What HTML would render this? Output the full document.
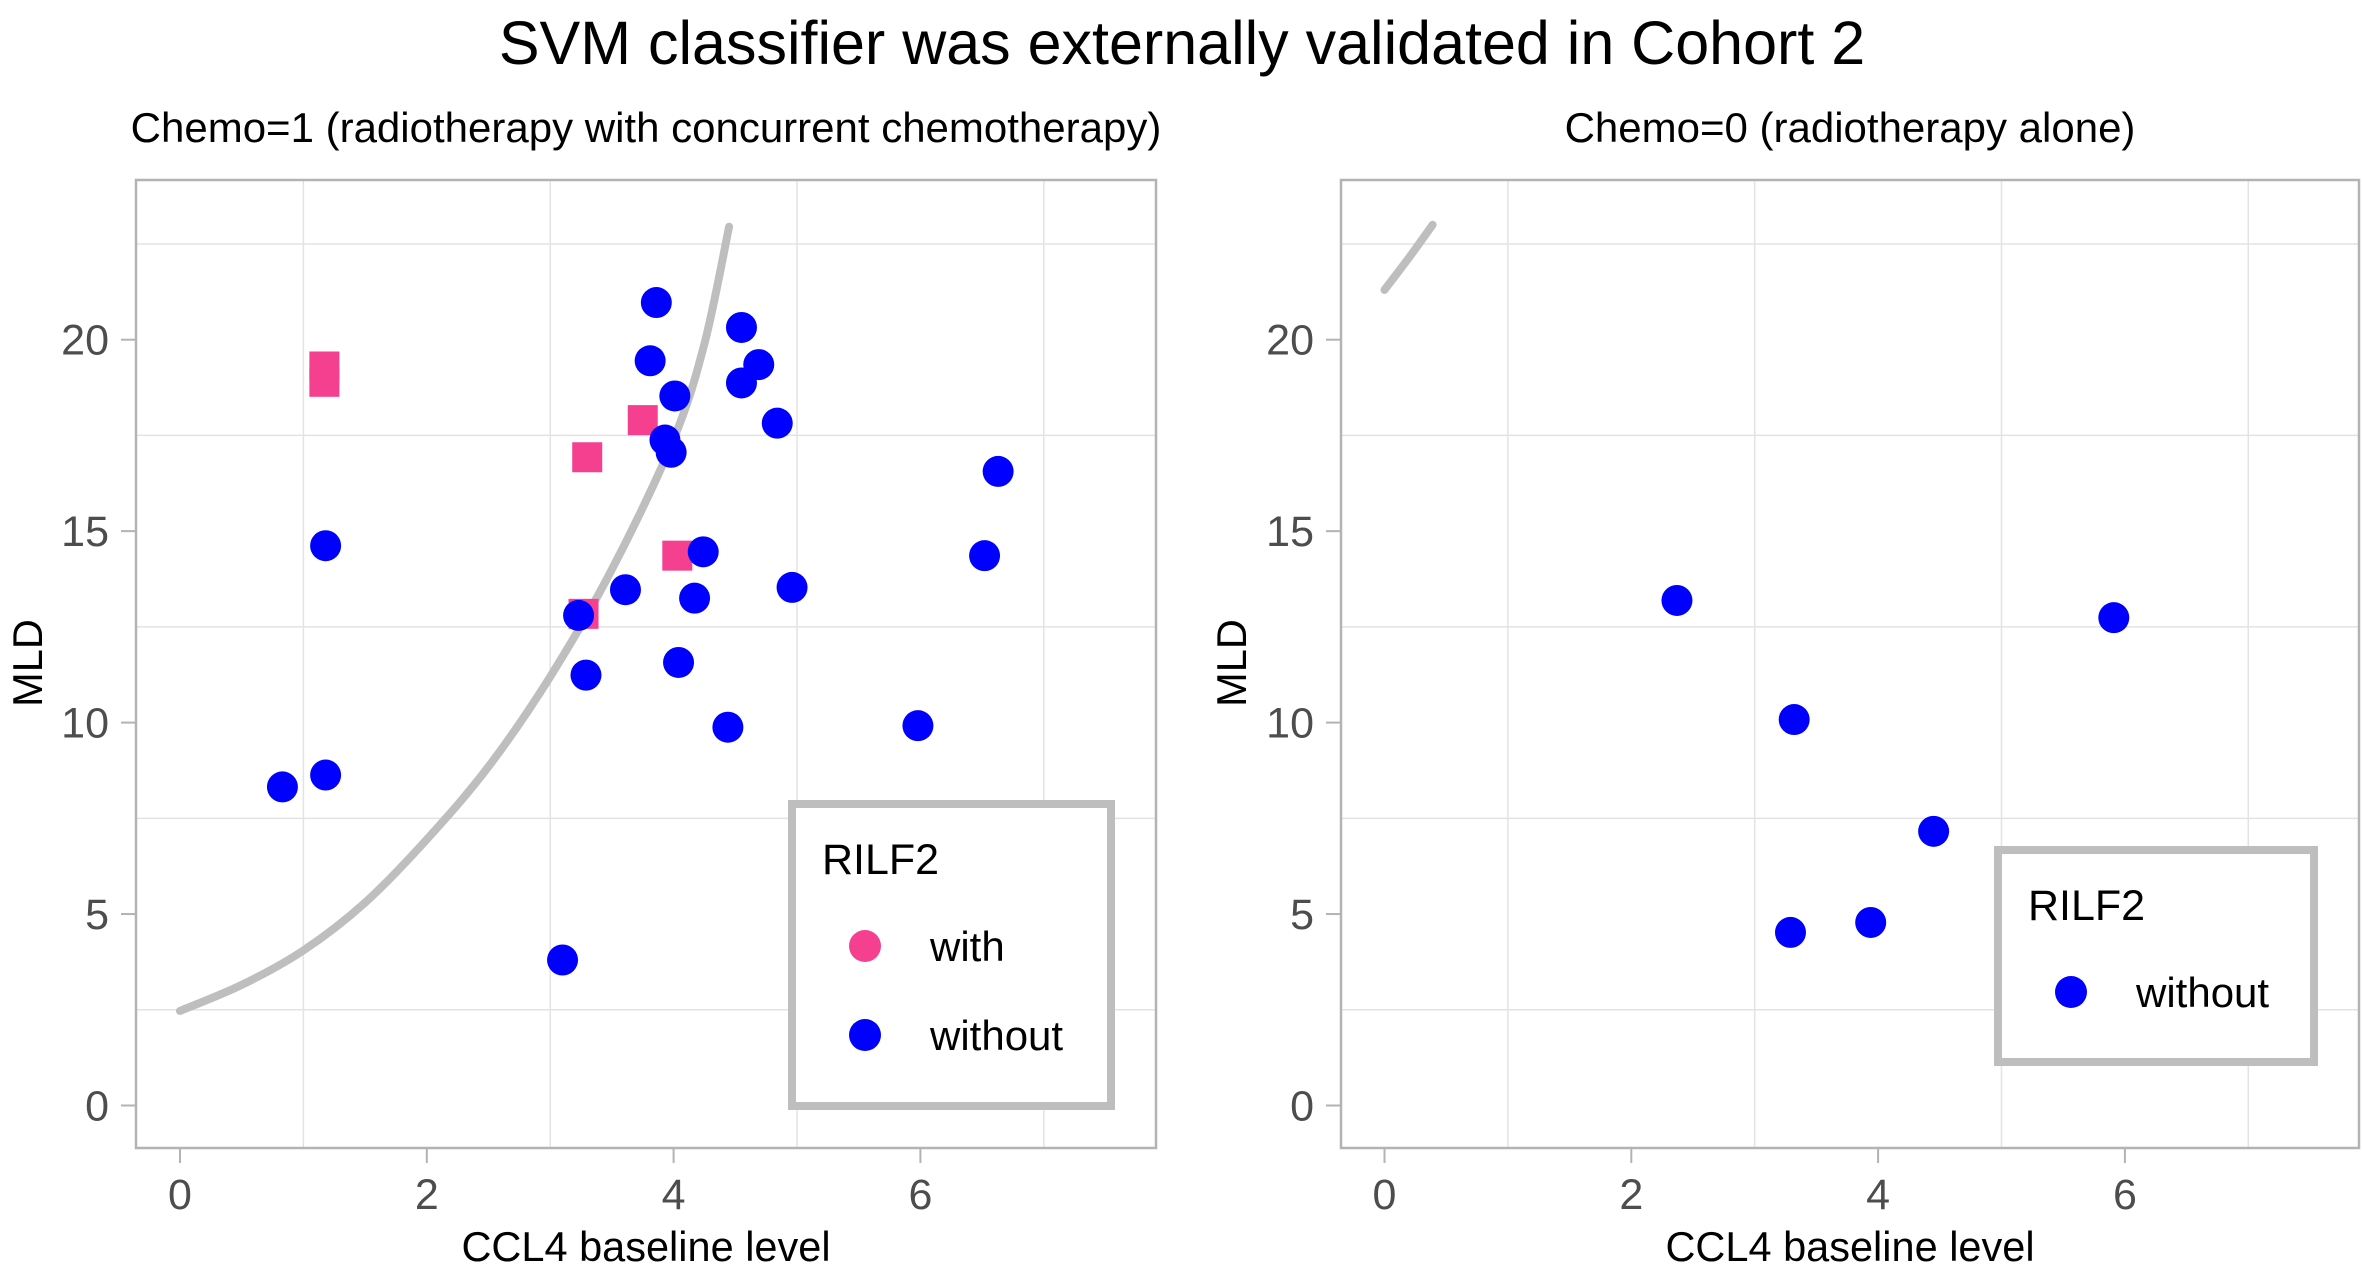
<!DOCTYPE html>
<html><head><meta charset="utf-8">
<style>
html,body{margin:0;padding:0;background:#fff;}
svg{display:block;font-family:"Liberation Sans",Arial,sans-serif;}
</style></head>
<body>
<svg id="chart" width="2362" height="1265" viewBox="0 0 2362 1265" xmlns="http://www.w3.org/2000/svg">
<rect width="2362" height="1265" fill="#fff"/>
<text x="1182" y="64" font-size="61" text-anchor="middle" fill="#000">SVM classifier was externally validated in Cohort 2</text>
</svg>
<script>
// ---- data ----
const p1WithoutX = [3.86,4.55,3.81,4.69,4.55,4.01,4.84,3.93,3.98,6.63,1.18,4.24,6.52,3.61,4.96,4.17,3.23,4.04,3.29,4.44,5.98,1.18,0.83,3.10];
const p1WithoutY = [20.97,20.32,19.45,19.35,18.87,18.53,17.82,17.38,17.06,16.56,14.62,14.46,14.36,13.47,13.53,13.25,12.80,11.57,11.24,9.88,9.92,8.63,8.32,3.80];
const p1WithX = [1.17,1.17,3.75,3.30,4.03,3.27];
const p1WithY = [19.3,18.9,17.9,16.93,14.36,12.84];
const p2WithoutX = [2.37,3.32,5.91,4.45,3.94,3.29];
const p2WithoutY = [13.19,10.08,12.74,7.16,4.78,4.52];
const curve1X = [0,0.5,1,1.5,2,2.5,3,3.5,4,4.25,4.45];
const curve1Y = [2.47,3.15,4.05,5.3,6.95,8.85,11.2,14.0,17.4,19.9,22.95];
const curve2X = [0,0.2,0.39];
const curve2Y = [21.3,22.15,23.0];
const xTicks = [0,2,4,6];
const yTicks = [0,5,10,15,20];
const xMinor = [1,3,5,7];
const yMinor = [2.5,7.5,12.5,17.5,22.5];

const NS="http://www.w3.org/2000/svg";
const svg=document.getElementById('chart');
function mk(tag,attrs,parent){const e=document.createElementNS(NS,tag);for(const k in attrs)e.setAttribute(k,attrs[k]);(parent||svg).appendChild(e);return e;}
function smooth(pts){
  let d='M'+pts[0][0].toFixed(1)+' '+pts[0][1].toFixed(1);
  for(let i=0;i<pts.length-1;i++){
    const p0=pts[Math.max(0,i-1)],p1=pts[i],p2=pts[i+1],p3=pts[Math.min(pts.length-1,i+2)];
    const c1=[p1[0]+(p2[0]-p0[0])/6,p1[1]+(p2[1]-p0[1])/6];
    const c2=[p2[0]-(p3[0]-p1[0])/6,p2[1]-(p3[1]-p1[1])/6];
    d+=` C${c1[0].toFixed(1)} ${c1[1].toFixed(1)} ${c2[0].toFixed(1)} ${c2[1].toFixed(1)} ${p2[0].toFixed(1)} ${p2[1].toFixed(1)}`;
  }
  return d;
}

function panel(cfg){
  const g=mk('g',{});
  
  
  const X=v=>cfg.x0+v*123.4, Y=v=>1105.5-v*38.29;
  xMinor.forEach(v=>{const px=X(v); if(px<cfg.right){const l=mk('line',{x1:px,x2:px,y1:cfg.top,y2:cfg.bottom,stroke:'#e3e3e3','stroke-width':1.5},g);
    }});
  yMinor.forEach(v=>{const l=mk('line',{x1:cfg.left,x2:cfg.right,y1:Y(v),y2:Y(v),stroke:'#e3e3e3','stroke-width':1.5},g);
    });
  const pts=cfg.cx.map((v,i)=>[X(v),Y(cfg.cy[i])]);
  const c=mk('path',{d:smooth(pts),fill:'none',stroke:'#bebebe','stroke-width':8,'stroke-linecap':'round','stroke-linejoin':'round'},g);
  
  
  cfg.sx.forEach((v,i)=>{const r=mk('rect',{x:X(v)-15,y:Y(cfg.sy[i])-15,width:30,height:30,fill:'#f5408f'},g);
    });
  cfg.bx.forEach((v,i)=>{const e=mk('circle',{cx:X(v),cy:Y(cfg.by[i]),r:15.5,fill:'#0000ff'},g);
    });
  const b=mk('rect',{x:cfg.left,y:cfg.top,width:cfg.right-cfg.left,height:cfg.bottom-cfg.top,fill:'none',stroke:'#b3b3b3','stroke-width':2.5},g);
  
  xTicks.forEach(v=>{const px=X(v);
    mk('line',{x1:px,x2:px,y1:cfg.bottom,y2:cfg.bottom+15,stroke:'#b3b3b3','stroke-width':2},g);
    const t=mk('text',{x:px,y:1209,'font-size':43,'text-anchor':'middle',fill:'#4d4d4d'},g);t.textContent=v;
    });
  yTicks.forEach(v=>{const py=Y(v);
    mk('line',{x1:cfg.left-15,x2:cfg.left,y1:py,y2:py,stroke:'#b3b3b3','stroke-width':2},g);
    const t=mk('text',{x:cfg.left-27,y:py+15,'font-size':43,'text-anchor':'end',fill:'#4d4d4d'},g);t.textContent=v;
    });
  const st=mk('text',{x:(cfg.left+cfg.right)/2,y:142,'font-size':42,'text-anchor':'middle',fill:'#000'},g);
  st.textContent=cfg.sub;
  const xt=mk('text',{x:(cfg.left+cfg.right)/2,y:1261,'font-size':41.5,'text-anchor':'middle',fill:'#000'},g);
  xt.textContent='CCL4 baseline level';
  const yt=mk('text',{x:0,y:0,'font-size':41.5,'text-anchor':'middle',fill:'#000',transform:`translate(${cfg.yTitleX},663) rotate(-90)`},g);
  yt.textContent='MLD';
  const L=cfg.leg;
  const lg=mk('g',{},g);
  
  mk('rect',{x:L.x,y:L.y,width:L.w,height:L.h,fill:'#fff',stroke:'#bebebe','stroke-width':8},lg);
  const lt=mk('text',{x:L.x+30,y:L.y+70,'font-size':43,fill:'#000'},lg);lt.textContent='RILF2';
  
  L.items.forEach((it,i)=>{const yy=L.y+142+i*89;
    const ci=mk('circle',{cx:L.x+73,cy:yy,r:16,fill:it.c},lg);
    
    const tt=mk('text',{x:L.x+138,y:yy+15,'font-size':42,fill:'#000'},lg);tt.textContent=it.t;
    });
}

panel({name:'panel-chemo-1',x0:180,left:136,right:1156,top:180,bottom:1148,
  sub:'Chemo=1 (radiotherapy with concurrent chemotherapy)',yTitleX:42,
  cx:curve1X,cy:curve1Y,sx:p1WithX,sy:p1WithY,bx:p1WithoutX,by:p1WithoutY,
  leg:{x:792,y:804,w:319,h:302,items:[{c:'#f5408f',t:'with'},{c:'#0000ff',t:'without'}]}});
panel({name:'panel-chemo-0',x0:1384.5,left:1341,right:2359,top:180,bottom:1148,
  sub:'Chemo=0 (radiotherapy alone)',yTitleX:1246,
  cx:curve2X,cy:curve2Y,sx:[],sy:[],bx:p2WithoutX,by:p2WithoutY,
  leg:{x:1998,y:850,w:316,h:212,items:[{c:'#0000ff',t:'without'}]}});
</script>
</body></html>
